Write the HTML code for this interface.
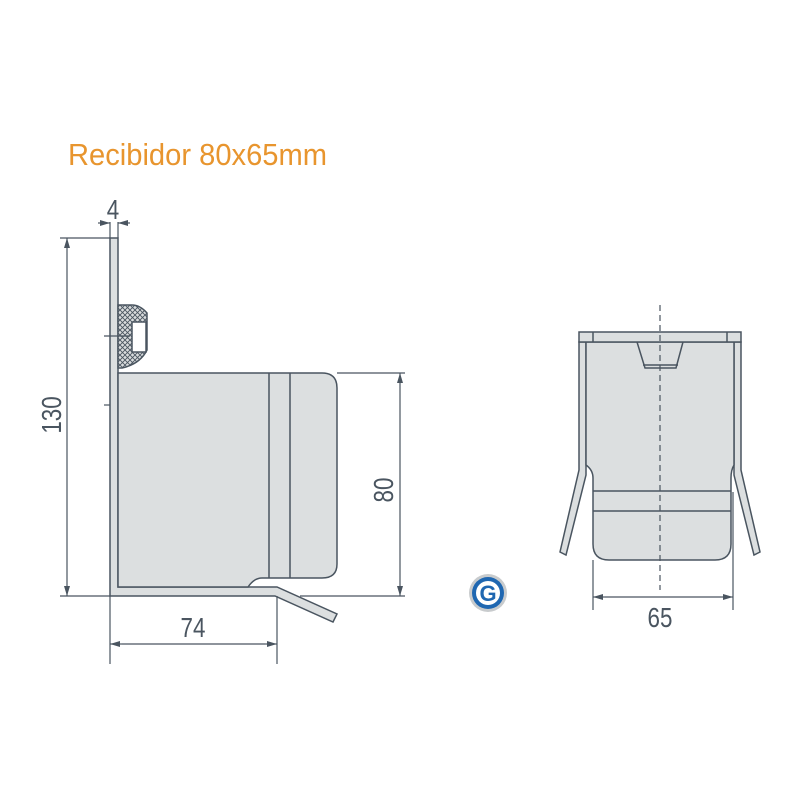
<!DOCTYPE html>
<html><head><meta charset="utf-8"><style>
body{margin:0;background:#fff;}
svg{display:block;}
</style></head><body>
<svg width="800" height="800" viewBox="0 0 800 800" xmlns="http://www.w3.org/2000/svg">
<defs>
<pattern id="hatch" width="5" height="5" patternUnits="userSpaceOnUse">
<rect width="5" height="5" fill="#d9dcdd"/>
<path d="M0 0L5 5M5 0L0 5" stroke="#4a5560" stroke-width="0.9"/>
</pattern>
<marker id="a" markerWidth="10" markerHeight="6" refX="10" refY="3" orient="auto" markerUnits="userSpaceOnUse"><path d="M0 0L10 3L0 6z" fill="#4a5560"/></marker>
</defs>
<text x="68" y="165" font-family="Liberation Sans, sans-serif" font-size="31" fill="#e8952e" textLength="259" lengthAdjust="spacingAndGlyphs">Recibidor 80x65mm</text>

<g stroke="#4a5560" stroke-width="1.5" fill="#dcdfe0">
<path d="M110 238 L118 238 L118 587 L277 587 L337 614 L333 622 L275 596 L110 596 Z"/>
<path d="M118 373 L322 373 Q337 373 337 388 L337 564 Q337 578 322 578 L262 578 Q254 578 248 587 L118 587 Z"/>
<line x1="269" y1="373" x2="269" y2="578"/>
<line x1="290" y1="373" x2="290" y2="578"/>
<path d="M118 305 L132 305 Q140 305 147 313 L147 350 Q140 364 122 368 L118 368 Z" fill="url(#hatch)"/>
<rect x="132" y="322" width="14" height="30" fill="#fff"/>
</g>
<g stroke="#4a5560" stroke-width="1.2" fill="none">
<line x1="104" y1="336" x2="130" y2="336"/>
<line x1="104" y1="405" x2="110" y2="405"/>
<line x1="60" y1="238" x2="110" y2="238"/>
<line x1="60" y1="596" x2="110" y2="596"/>
<line x1="300" y1="596" x2="405" y2="596"/>
<line x1="67" y1="250" x2="67" y2="584"/>
<line x1="67" y1="250" x2="67" y2="238" marker-end="url(#a)"/>
<line x1="67" y1="584" x2="67" y2="596" marker-end="url(#a)"/>
<line x1="337" y1="373" x2="405" y2="373"/>
<line x1="400" y1="385" x2="400" y2="584"/>
<line x1="400" y1="385" x2="400" y2="373" marker-end="url(#a)"/>
<line x1="400" y1="584" x2="400" y2="596" marker-end="url(#a)"/>
<line x1="110" y1="596" x2="110" y2="664"/>
<line x1="277" y1="596" x2="277" y2="664"/>
<line x1="122" y1="644" x2="265" y2="644"/>
<line x1="122" y1="644" x2="110" y2="644" marker-end="url(#a)"/>
<line x1="265" y1="644" x2="277" y2="644" marker-end="url(#a)"/>
<line x1="110" y1="222" x2="110" y2="238"/>
<line x1="118" y1="222" x2="118" y2="238"/>
<line x1="98" y1="223" x2="110" y2="223" marker-end="url(#a)"/>
<line x1="130" y1="223" x2="118" y2="223" marker-end="url(#a)"/>
</g>
<g font-family="Liberation Sans, sans-serif" font-size="28" fill="#4a5560" text-anchor="middle">
<text transform="translate(113,219) scale(0.8,1)">4</text>
<text transform="translate(193,637) scale(0.8,1)">74</text>
<text transform="translate(61,415) rotate(-90) scale(0.8,1)">130</text>
<text transform="translate(393,490) rotate(-90) scale(0.8,1)">80</text>
<text transform="translate(660,627) scale(0.8,1)">65</text>
</g>

<g stroke="#4a5560" stroke-width="1.5" fill="#dcdfe0">
<path d="M579 342 L579 470 L560 552 L566 555 L586 475 L586 342 Z"/>
<path d="M741 342 L741 470 L760 552 L754 555 L734 475 L734 342 Z"/>
<path d="M586 342 L734 342 L734 465 Q731 470 731 478 L731 544 Q731 560 715 560 L609 560 Q593 560 593 544 L593 478 Q593 470 586 465 Z"/>
<line x1="593" y1="491" x2="731" y2="491"/>
<line x1="593" y1="511" x2="731" y2="511"/>
<path d="M637 342 L683 342 L676 368 L645 368 Z"/>
<line x1="643" y1="365" x2="678" y2="365"/>
<rect x="579" y="332" width="162" height="10"/>
<line x1="593" y1="332" x2="593" y2="342"/>
<line x1="727" y1="332" x2="727" y2="342"/>
</g>
<g stroke="#4a5560" stroke-width="1.2" fill="none">
<line x1="660" y1="305" x2="660" y2="590" stroke-dasharray="6 4"/>
<line x1="593" y1="560" x2="593" y2="610"/>
<line x1="733" y1="492" x2="733" y2="610"/>
<line x1="605" y1="597" x2="721" y2="597"/>
<line x1="605" y1="597" x2="593" y2="597" marker-end="url(#a)"/>
<line x1="721" y1="597" x2="733" y2="597" marker-end="url(#a)"/>
</g>

<circle cx="488" cy="593" r="19" fill="#c8cbcd"/>
<circle cx="488" cy="593" r="16" fill="#1f67b1"/>
<circle cx="488" cy="593" r="12" fill="#fff"/>
<text x="488" y="601" font-family="Liberation Sans, sans-serif" font-weight="bold" font-size="22" fill="#1f67b1" text-anchor="middle">G</text>
</svg>
</body></html>
